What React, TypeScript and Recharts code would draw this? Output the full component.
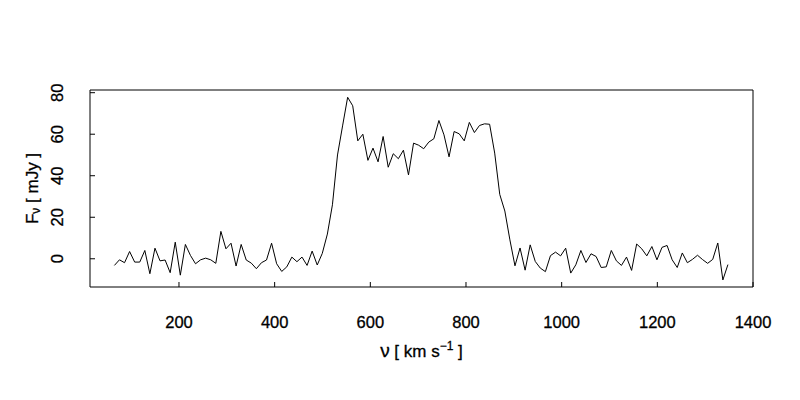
import { Line, LineChart, ReferenceArea, XAxis, YAxis } from "recharts";

// channel velocities (km/s)
const velocity = [
  65.0, 75.6, 86.2, 96.8, 107.4, 118.0, 128.6, 139.2, 149.8, 160.4,
  171.0, 181.6, 192.2, 202.8, 213.4, 224.0, 234.6, 245.2, 255.8, 266.4,
  277.0, 287.6, 298.2, 308.8, 319.4, 330.0, 340.6, 351.2, 361.8, 372.4,
  383.0, 393.6, 404.2, 414.8, 425.4, 436.0, 446.6, 457.2, 467.8, 478.4,
  489.0, 499.6, 510.2, 520.8, 531.4, 542.0, 552.6, 563.2, 573.8, 584.4,
  595.0, 605.6, 616.2, 626.8, 637.4, 648.0, 658.6, 669.2, 679.8, 690.4,
  701.0, 711.6, 722.2, 732.8, 743.4, 754.0, 764.6, 775.2, 785.8, 796.4,
  807.0, 817.6, 828.2, 838.8, 849.4, 860.0, 870.6, 881.2, 891.8, 902.4,
  913.0, 923.6, 934.2, 944.8, 955.4, 966.0, 976.6, 987.2, 997.8, 1008.4,
  1019.0, 1029.6, 1040.2, 1050.8, 1061.4, 1072.0, 1082.6, 1093.2, 1103.8, 1114.4,
  1125.0, 1135.6, 1146.2, 1156.8, 1167.4, 1178.0, 1188.6, 1199.2, 1209.8, 1220.4,
  1231.0, 1241.6, 1252.2, 1262.8, 1273.4, 1284.0, 1294.6, 1305.2, 1315.8, 1326.4,
  1337.0, 1347.6,
];

// flux density (mJy)
const flux = [
  -3.2, -0.5, -1.9, 3.5, -1.6, -1.6, 4.0, -7.2, 5.1, -1.0,
  -0.6, -6.7, 8.0, -7.9, 6.9, 1.6, -2.4, -0.5, 0.3, -0.5,
  -2.2, 13.2, 4.8, 7.5, -3.5, 6.9, -0.6, -2.1, -4.8, -1.9,
  -0.6, 7.5, -2.4, -6.1, -3.9, 0.8, -1.4, 0.8, -3.2, 3.7,
  -3.0, 2.6, 11.9, 26.0, 50.0, 64.0, 77.8, 73.7, 56.8, 60.0,
  47.4, 53.3, 46.7, 58.9, 44.1, 50.6, 48.2, 52.3, 40.4, 55.7,
  54.7, 53.0, 56.2, 57.8, 66.6, 59.7, 49.1, 61.3, 60.2, 56.8,
  65.7, 60.8, 64.2, 65.0, 64.8, 50.9, 31.0, 23.0, 9.1, -3.4,
  5.2, -5.5, 6.7, -1.3, -4.5, -6.2, 1.5, 3.2, 1.4, 5.1,
  -6.9, -2.9, 4.0, -1.8, 2.4, 1.1, -4.2, -3.9, 4.0, -1.0,
  -3.2, 0.8, -5.6, 7.1, 4.8, 1.4, 5.9, -0.5, 5.5, 6.4,
  -0.5, -4.2, 2.8, -1.9, -0.3, 1.7, -0.4, -2.2, -0.3, 7.6,
  -10.2, -2.8,
];

const xTicks = [200, 400, 600, 800, 1000, 1200, 1400];
const yTicks = [0, 20, 40, 60, 80];

const X_DOMAIN: [number, number] = [14, 1400];
const Y_DOMAIN: [number, number] = [-13.6, 81.3];

const FONT = "'Liberation Sans', Arial, sans-serif";

const data = velocity.map((v, i) => ({ v, f: flux[i] }));

const XTick = ({ x, payload }: any) => (
  <text x={x} y={328} textAnchor="middle" fontSize={16.5} fontFamily={FONT} fill="#000" stroke="#000" strokeWidth={0.3}>
    {payload.value}
  </text>
);

const YTick = ({ y, payload }: any) => (
  <text
    x={63}
    y={y}
    transform={`rotate(-90, 63, ${y})`}
    textAnchor="middle"
    fontSize={16.5}
    fontFamily={FONT}
    fill="#000"
    stroke="#000"
    strokeWidth={0.3}
  >
    {payload.value}
  </text>
);

export default function App() {
  return (
    <div style={{ position: "absolute", left: 0, top: 0, background: "#fff" }}>
      <LineChart
        width={800}
        height={400}
        data={data}
        margin={{ top: 90, right: 47, bottom: 83, left: 0 }}
      >
        <XAxis
          dataKey="v"
          type="number"
          domain={X_DOMAIN}
          ticks={xTicks}
          axisLine={false}
          tickSize={-5}
          tickLine={{ stroke: "#000" }}
          tick={<XTick />}
          height={30}
          allowDataOverflow
        />
        <YAxis
          type="number"
          domain={Y_DOMAIN}
          ticks={yTicks}
          axisLine={false}
          tickSize={-5}
          tickLine={{ stroke: "#000" }}
          tick={<YTick />}
          width={90}
          allowDataOverflow
        />
        <ReferenceArea
          x1={X_DOMAIN[0]}
          x2={X_DOMAIN[1]}
          y1={Y_DOMAIN[0]}
          y2={Y_DOMAIN[1]}
          fill="none"
          fillOpacity={0}
          stroke="#000"
          strokeWidth={1}
          ifOverflow="visible"
        />
        <Line
          type="linear"
          dataKey="f"
          stroke="#000"
          strokeWidth={1}
          dot={false}
          isAnimationActive={false}
        />
        <text x={421.5} y={357} textAnchor="middle" fontSize={17} fontFamily={FONT} fill="#000" stroke="#000" strokeWidth={0.3}>
          <tspan fontSize={19}>ν</tspan> [ km s
          <tspan dy={-7} fontSize={12}>−1</tspan>
          <tspan dy={7}> ]</tspan>
        </text>
        <text
          x={38}
          y={188.5}
          transform="rotate(-90, 38, 188.5)"
          textAnchor="middle"
          fontSize={17}
          fontFamily={FONT}
          fill="#000"
          stroke="#000"
          strokeWidth={0.3}
        >
          F<tspan dy={2} fontSize={12}>ν</tspan>
          <tspan dy={-2}> [ mJy ]</tspan>
        </text>
      </LineChart>
    </div>
  );
}
